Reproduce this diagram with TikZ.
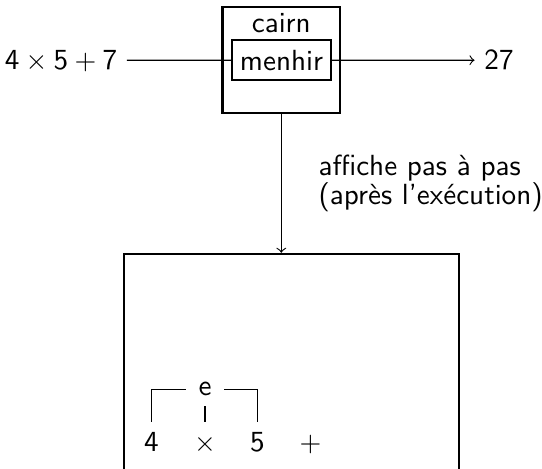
\documentclass[tikz,border=0pt]{standalone}
\usetikzlibrary{calc}
\begin{document}
\begin{tikzpicture}[x=0.357pt,y=-0.357pt,
  every node/.style={font=\sffamily\fontsize{10.4pt}{12.5pt}\selectfont},
  frame/.style={draw,line width=0.8pt,inner sep=0pt},
  link/.style={line width=0.4pt},
  tok/.style={text height=7pt,text depth=0pt,inner xsep=3pt,inner ysep=3.5pt},
  lbl/.style={text height=4.6pt,text depth=0pt,inner xsep=4.1pt,inner ysep=3.5pt}]
\useasboundingbox (0,0) rectangle (542,469);

% the outer box and the inner one
\node[frame,minimum width=42pt,minimum height=37.9pt] (cairn) at (281.3,60.3) {};
\node[anchor=base,inner sep=0pt] (cairnlbl) at (281.3,33) {cairn};
\node[frame,minimum width=35.4pt,minimum height=14.3pt] (menhir) at (281.5,60.3) {menhir};

% input and output
\node[text height=7pt,text depth=0pt] (input) at (61,60.2) {4${}\times{}$5${}+{}$7};
\node[text height=7pt,text depth=0pt] (output) at (499,60.2) {27};
\draw[link] (input) -- (menhir);
\draw[link,->] (menhir) -- (output);

% the display box
\node[frame,minimum width=119.6pt,minimum height=95pt] (screen) at (291.6,387) {};
\draw[link,->] (cairn.south) -- (cairn.south |- screen.north);
\node[anchor=north west,inner sep=0pt,align=left,
  font=\sffamily\fontsize{10.4pt}{10.6pt}\selectfont] (note) at (318,154)
  {affiche pas à pas\\(après l'exécution)};

% step-by-step tree
\node[tok] (n4) at (151.5,442) {4};
\node[tok] (ntimes) at (205,442) {$\times$};
\node[tok] (n5) at (257.5,442) {5};
\node[tok] (nplus) at (310.5,442) {$+$};
\node[lbl] (ne) at (205,389.5) {e};
\draw[link] (n4.north) |- (ne.west);
\draw[link] (n5.north) |- (ne.east);
\draw[link] (ntimes.north) -- (ne.south);
\end{tikzpicture}
\end{document}
